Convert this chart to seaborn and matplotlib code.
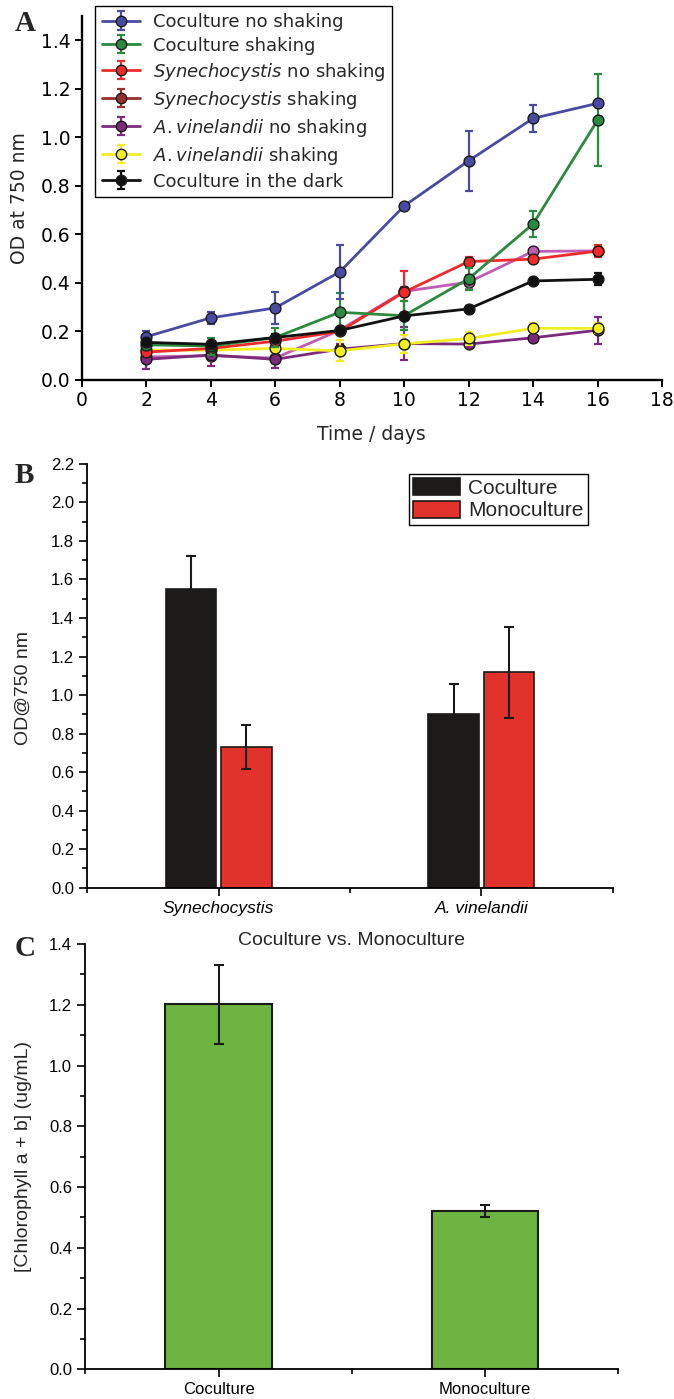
import numpy as np
import pandas as pd
import matplotlib
matplotlib.use("Agg")
import matplotlib.pyplot as plt
import seaborn as sns
from matplotlib.ticker import MultipleLocator, FixedLocator, FormatStrFormatter
from matplotlib.lines import Line2D
from matplotlib.patches import Patch
from matplotlib.container import ErrorbarContainer
from matplotlib.collections import LineCollection

sns.set_theme(style="ticks")
plt.rcParams['font.family'] = ['DejaVu Sans']
plt.rcParams['mathtext.fontset'] = 'dejavusans'

# ---------------- Panel A data ----------------
days = [2, 4, 6, 8, 10, 12, 14, 16]
series_labels = [
    "Coculture no shaking",
    "Coculture shaking",
    r"$\mathit{Synechocystis}$ no shaking",
    r"$\mathit{Synechocystis}$ shaking",
    r"$\mathit{A.vinelandii}$ no shaking",
    r"$\mathit{A.vinelandii}$ shaking",
    "Coculture in the dark",
]
coculture_no_shaking = [0.178, 0.256, 0.297, 0.445, 0.717, 0.903, 1.078, 1.140]
coculture_no_shaking_err = [0.025, 0.025, 0.065, 0.110, 0.005, 0.123, 0.057, 0.010]
coculture_shaking = [0.145, 0.140, 0.175, 0.279, 0.265, 0.417, 0.643, 1.070]
coculture_shaking_err = [0.020, 0.035, 0.040, 0.080, 0.060, 0.045, 0.055, 0.190]
syn_no_shaking = [0.115, 0.130, 0.160, 0.200, 0.362, 0.488, 0.498, 0.531]
syn_no_shaking_err = [0.010, 0.010, 0.010, 0.010, 0.087, 0.020, 0.010, 0.025]
syn_shaking = [0.095, 0.100, 0.090, 0.205, 0.365, 0.403, 0.530, 0.532]
syn_shaking_err = [0.010, 0.010, 0.010, 0.010, 0.020, 0.030, 0.015, 0.015]
avin_no_shaking = [0.085, 0.103, 0.085, 0.127, 0.150, 0.148, 0.174, 0.205]
avin_no_shaking_err = [0.040, 0.045, 0.035, 0.020, 0.068, 0.015, 0.015, 0.055]
avin_shaking = [0.123, 0.123, 0.130, 0.120, 0.149, 0.171, 0.213, 0.213]
avin_shaking_err = [0.020, 0.020, 0.020, 0.043, 0.037, 0.025, 0.020, 0.020]
dark = [0.155, 0.147, 0.175, 0.204, 0.264, 0.293, 0.408, 0.415]
dark_err = [0.010, 0.010, 0.015, 0.010, 0.010, 0.010, 0.010, 0.025]

# ---------------- Panel B data ----------------
species = ["Synechocystis", "A. vinelandii"]
conditions = ["Coculture", "Monoculture"]
od_coculture = [1.549, 0.900]
od_coculture_err = [0.175, 0.155]
od_monoculture = [0.730, 1.118]
od_monoculture_err = [0.115, 0.235]

# ---------------- Panel C data ----------------
chl_groups = ["Coculture", "Monoculture"]
chl_values = [1.202, 0.521]
chl_err = [0.130, 0.020]

# ---------------- styling ----------------
BLUE = '#4a4aa2'
GREEN = '#2a8a3e'
RED = '#ee2a2a'
BROWN = '#9b2d2d'
PURPLE = '#7d2a7d'
YELLOW = '#f2ee22'
BLACK = '#111111'
PINK = '#c25bb3'
EDGE = '#1a1a1a'

series_vals = [coculture_no_shaking, coculture_shaking, syn_no_shaking, syn_shaking,
               avin_no_shaking, avin_shaking, dark]
series_errs = [coculture_no_shaking_err, coculture_shaking_err, syn_no_shaking_err,
               syn_shaking_err, avin_no_shaking_err, avin_shaking_err, dark_err]
plot_colors = [BLUE, GREEN, RED, PINK, PURPLE, YELLOW, BLACK]
legend_colors = [BLUE, GREEN, RED, BROWN, PURPLE, YELLOW, BLACK]
zorders = [7, 6, 5, 2, 3, 4, 8]

fig = plt.figure(figsize=(6.74, 13.99), dpi=100)
axA = fig.add_axes([0.1212, 0.72838, 0.861, 0.2602])
axB = fig.add_axes([0.1295, 0.3655, 0.7795, 0.3029])
axC = fig.add_axes([0.1266, 0.02123, 0.7904, 0.304])

# ---------------- Panel A ----------------
for vals, errs, c, z in zip(series_vals, series_errs, plot_colors, zorders):
    axA.errorbar(days, vals, yerr=errs, fmt='none', ecolor=c, elinewidth=1.6,
                 capsize=3, capthick=1.6, zorder=z)
    sns.lineplot(x=days, y=vals, ax=axA, color=c, lw=2.0, marker='o', markersize=7.8,
                 markerfacecolor=c, markeredgecolor=EDGE, markeredgewidth=1.0,
                 errorbar=None, zorder=z + 0.1)


def err_proxy(c):
    ln = Line2D([], [], color=c, lw=2.0, marker='o', ms=7.5, mfc=c, mec=EDGE, mew=1.0)
    cap = Line2D([], [], color=c, marker='_', ms=6, mew=1.6, ls='none')
    bar = LineCollection([], colors=[c], linewidths=1.6)
    return ErrorbarContainer((ln, (cap, cap), (bar,)), has_xerr=False, has_yerr=True)


handles = [err_proxy(c) for c in legend_colors]
legA = axA.legend(handles, series_labels, loc='upper left', bbox_to_anchor=(0.0225, 1.0275),
                  borderaxespad=0, frameon=True, fancybox=False, framealpha=1,
                  edgecolor='black', prop={'family': 'DejaVu Sans', 'size': 13},
                  handlelength=2.1, handletextpad=0.75, labelspacing=0.33, borderpad=0.38)
legA.get_frame().set_linewidth(1.0)
legA.set_zorder(20)

axA.set_xlim(0, 18)
axA.set_ylim(0, 1.5)
axA.set_xticks(np.arange(0, 19, 2))
axA.set_yticks(np.arange(0, 1.41, 0.2))
axA.yaxis.set_major_formatter(FormatStrFormatter('%.1f'))
axA.set_xlabel("Time / days", fontsize=13.5)
axA.set_ylabel("OD at 750 nm", fontsize=13.5)
axA.xaxis.set_label_coords(0.5, -0.125)
axA.yaxis.set_label_coords(-0.09, 0.5)
sns.despine(ax=axA)
for s in ['left', 'bottom']:
    axA.spines[s].set_linewidth(1.7)
    axA.spines[s].set_color('black')
axA.tick_params(axis='both', direction='out', length=5, width=1.4, labelsize=13.5,
                colors='black', pad=3)

# ---------------- Panel B ----------------
dfB = pd.DataFrame({
    'species': species * 2,
    'condition': [conditions[0]] * len(species) + [conditions[1]] * len(species),
    'od': od_coculture + od_monoculture,
})
errB = od_coculture_err + od_monoculture_err
bar_colors_B = ['#1c1b19', '#e2322c']
sns.barplot(data=dfB, x='species', y='od', hue='condition', hue_order=conditions,
            palette=bar_colors_B, saturation=1, width=0.42, gap=0.08, errorbar=None,
            edgecolor=EDGE, linewidth=1.2, ax=axB, legend=False, zorder=2)
bx, by = [], []
for cont in axB.containers:
    for bar in cont:
        bx.append(bar.get_x() + bar.get_width() / 2)
        by.append(bar.get_height())
axB.errorbar(bx, by, yerr=errB, fmt='none', ecolor=EDGE, elinewidth=1.5,
             capsize=3.5, capthick=1.5, zorder=3)

axB.set_xlim(-0.5, 1.5)
axB.set_ylim(0, 2.2)
axB.yaxis.set_major_locator(MultipleLocator(0.2))
axB.yaxis.set_minor_locator(MultipleLocator(0.1))
axB.yaxis.set_major_formatter(FormatStrFormatter('%.1f'))
axB.set_xticks([0, 1])
axB.set_xticklabels(species, fontstyle='italic', fontfamily='Liberation Sans', fontsize=12.5)
axB.xaxis.set_minor_locator(FixedLocator([-0.5, 0.5, 1.5]))
axB.set_xlabel("")
axB.set_ylabel("OD@750 nm", fontsize=14, fontfamily='Liberation Sans')
axB.yaxis.set_label_coords(-0.105, 0.47)
sns.despine(ax=axB)
for s in ['left', 'bottom']:
    axB.spines[s].set_linewidth(1.3)
    axB.spines[s].set_color('black')
axB.tick_params(axis='y', which='major', direction='out', length=6, width=1.2,
                labelsize=12, labelfontfamily='Liberation Sans', colors='black')
axB.tick_params(axis='y', which='minor', direction='out', length=3.5, width=1.2, colors='black')
axB.tick_params(axis='x', which='major', direction='out', length=6, width=1.2, colors='black')
axB.tick_params(axis='x', which='minor', direction='out', length=3.5, width=1.2, colors='black')

handlesB = [Patch(facecolor=c, edgecolor=EDGE, linewidth=1.2) for c in bar_colors_B]
legB = axB.legend(handlesB, conditions, loc='upper left', bbox_to_anchor=(0.6125, 0.976),
                  borderaxespad=0, frameon=True, fancybox=False, framealpha=1,
                  edgecolor='black', prop={'family': 'Liberation Sans', 'size': 15},
                  handlelength=2.25, handleheight=0.85, handletextpad=0.4,
                  labelspacing=0.15, borderpad=0.2)
legB.get_frame().set_linewidth(1.0)

# ---------------- Panel C ----------------
sns.barplot(x=chl_groups, y=chl_values, color='#6db33f', saturation=1, width=0.40,
            errorbar=None, edgecolor=EDGE, linewidth=1.5, ax=axC, zorder=2)
cx, cy = [], []
for cont in axC.containers:
    for bar in cont:
        cx.append(bar.get_x() + bar.get_width() / 2)
        cy.append(bar.get_height())
axC.errorbar(cx, cy, yerr=chl_err, fmt='none', ecolor=EDGE, elinewidth=1.5,
             capsize=3.5, capthick=1.5, zorder=3)
axC.set_xlim(-0.5, 1.5)
axC.set_ylim(0, 1.4)
axC.yaxis.set_major_locator(MultipleLocator(0.2))
axC.yaxis.set_minor_locator(MultipleLocator(0.1))
axC.yaxis.set_major_formatter(FormatStrFormatter('%.1f'))
axC.set_xticks([0, 1])
axC.set_xticklabels(chl_groups, fontfamily='Liberation Sans', fontsize=12)
axC.xaxis.set_minor_locator(FixedLocator([-0.5, 0.5, 1.5]))
axC.set_ylabel("[Chlorophyll a + b] (ug/mL)", fontsize=14, fontfamily='Liberation Sans')
axC.yaxis.set_label_coords(-0.1, 0.5)
axC.text(0.5, 1.008, "Coculture vs. Monoculture", transform=axC.transAxes, ha='center',
         va='center', fontsize=14, fontfamily='Liberation Sans')
sns.despine(ax=axC)
for s in ['left', 'bottom']:
    axC.spines[s].set_linewidth(1.3)
    axC.spines[s].set_color('black')
axC.tick_params(axis='y', which='major', direction='out', length=6, width=1.2,
                labelsize=12, labelfontfamily='Liberation Sans', colors='black')
axC.tick_params(axis='y', which='minor', direction='out', length=3.5, width=1.2, colors='black')
axC.tick_params(axis='x', which='major', direction='out', length=6, width=1.2, colors='black')
axC.tick_params(axis='x', which='minor', direction='out', length=3.5, width=1.2, colors='black')

# ---------------- panel letters ----------------
for txt, y in [("A", 0.9929), ("B", 0.6698), ("C", 0.3317)]:
    fig.text(0.022, y, txt, fontfamily='Liberation Serif', fontweight='bold',
             fontsize=21, va='top', ha='left')

fig.savefig("out.png", dpi=100)
